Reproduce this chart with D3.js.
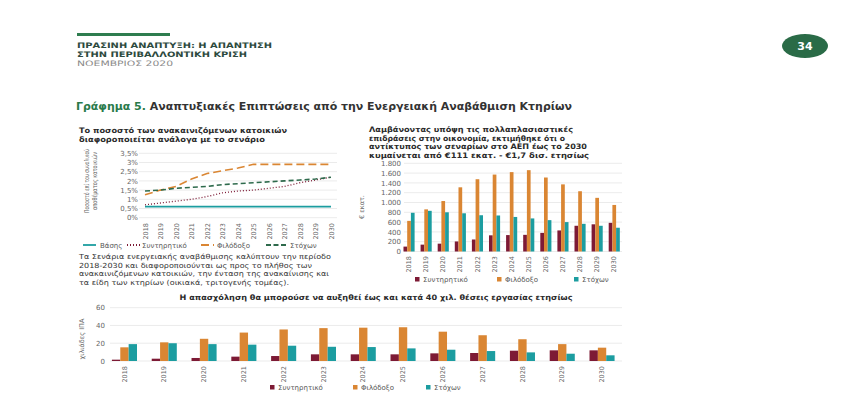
<!DOCTYPE html>
<html>
<head>
<meta charset="utf-8">
<script src="https://d3js.org/d3.v7.min.js"></script>
<style>
  body { margin: 0; background: #fff; }
  svg { display: block; font-family: "DejaVu Sans", sans-serif; }
</style>
</head>
<body>
<svg id="page" width="861" height="409"></svg>
<script>
// data
var years = ['2018','2019','2020','2021','2022','2023','2024','2025','2026','2027','2028','2029','2030'];

// renovated homes, % of stock
var shareBase = [0.6,0.6,0.6,0.6,0.6,0.6,0.6,0.6,0.6,0.6,0.6,0.6,0.6];
var shareCons = [0.7,0.8,0.9,1.0,1.15,1.35,1.45,1.5,1.6,1.7,1.9,2.05,2.2];
var shareAmb = [1.25,1.5,1.7,2.1,2.4,2.55,2.7,2.9,2.9,2.9,2.9,2.9,2.9];
var shareTarget = [1.45,1.5,1.6,1.65,1.7,1.8,1.85,1.9,1.95,2.0,2.05,2.1,2.2];
var shareTicks = [0,0.5,1,1.5,2,2.5,3,3.5];

// GDP impact, € million
var gdpCons = [100,140,160,205,245,330,335,340,380,430,525,555,585];
var gdpAmb = [625,860,1030,1310,1475,1570,1620,1660,1510,1370,1230,1095,950];
var gdpTarget = [790,830,800,780,740,735,705,675,640,600,565,525,485];
var gdpTicks = [0,200,400,600,800,1000,1200,1400,1600,1800];

// jobs, thousand FTE
var jobsCons = [1.5,2.6,3.4,4.9,5.6,7.5,7.5,7.5,8.6,9,11.6,12,12];
var jobsAmb = [15.4,21,25,32,35.5,37,37.5,38,33,29,24.5,19,15];
var jobsTarget = [19,20,19,18.4,17.2,16,15.7,14.2,12.7,11.2,9.7,8.2,6.4];
var jobsTicks = [0,20,40,60];

var scenarioNames = ['Συντηρητικό','Φιλόδοξο','Στόχων'];

var RED = '#7d1a35', ORANGE = '#da8633', TEAL = '#1c9da0', DKGREEN = '#2e6a4c', GRID = '#e6e6e6';

var gr = d3.formatLocale({decimal: ',', thousands: '.', grouping: [3], currency: ['€', '']});
var fmtInt = gr.format(',d');
var fmtPct = function (v) { return gr.format(',')(v) + '%'; };

var svg = d3.select('#page');

// ---- page header ----
svg.append('rect').attr('x', 77).attr('y', 33).attr('width', 93).attr('height', 3).attr('fill', '#2e7d4f');
var head = [
  {t: 'ΠΡΑΣΙΝΗ ΑΝΑΠΤΥΞΗ: Η ΑΠΑΝΤΗΣΗ', y: 48, w: 195, c: '#2d4a3e', b: true},
  {t: 'ΣΤΗΝ ΠΕΡΙΒΑΛΛΟΝΤΙΚΗ ΚΡΙΣΗ', y: 57, w: 170, c: '#2d4a3e', b: true},
  {t: 'ΝΟΕΜΒΡΙΟΣ 2020', y: 66, w: 96, c: '#8a8a8a', b: false}
];
svg.selectAll('.head').data(head).enter().append('text')
  .attr('x', 77).attr('y', function (d) { return d.y; })
  .attr('textLength', function (d) { return d.w; }).attr('lengthAdjust', 'spacingAndGlyphs')
  .attr('font-size', 7.5).attr('fill', function (d) { return d.c; })
  .attr('font-weight', function (d) { return d.b ? 'bold' : 'normal'; })
  .text(function (d) { return d.t; });

svg.append('ellipse').attr('cx', 805).attr('cy', 46).attr('rx', 23).attr('ry', 12).attr('fill', '#2a6b47');
svg.append('text').attr('x', 805).attr('y', 50).attr('text-anchor', 'middle')
  .attr('font-size', 11).attr('font-weight', 'bold').attr('fill', '#fff').text('34');

var title = svg.append('text').attr('x', 76).attr('y', 110).attr('font-size', 11).attr('font-weight', 'bold')
  .attr('textLength', 496).attr('lengthAdjust', 'spacingAndGlyphs');
title.append('tspan').attr('fill', '#2a7a4a').text('Γράφημα 5. ');
title.append('tspan').attr('fill', '#333').text('Αναπτυξιακές Επιπτώσεις από την Ενεργειακή Αναβάθμιση Κτηρίων');

function lines(x, ys, arr, size, bold, widths, color) {
  arr.forEach(function (t, i) {
    var el = svg.append('text').attr('x', x).attr('y', ys[i]).attr('font-size', size)
      .attr('fill', color || '#2a2a2a').text(t);
    if (bold) el.attr('font-weight', 'bold');
    if (widths) el.attr('textLength', widths[i]).attr('lengthAdjust', 'spacingAndGlyphs');
  });
}

// ---- left: line chart ----
lines(79, [132.5, 141.5], ['Το ποσοστό των ανακαινιζόμενων κατοικιών', 'διαφοροποιείται ανάλογα με το σενάριο'], 7.5, true, [208, 186]);

var xL = d3.scalePoint().domain(years).range([145, 331]);
var yL = d3.scaleLinear().domain([0, 3.5]).range([217.7, 153.3]);

svg.append('g').selectAll('line').data(shareTicks).enter().append('line')
  .attr('x1', 139).attr('x2', 337)
  .attr('y1', function (d) { return yL(d); }).attr('y2', function (d) { return yL(d); })
  .attr('stroke', GRID).attr('stroke-width', 0.8);

var axL = svg.append('g').attr('transform', 'translate(138,0)')
  .call(d3.axisLeft(yL).tickValues(shareTicks).tickSize(0).tickPadding(0).tickFormat(fmtPct));
axL.select('.domain').remove();
axL.selectAll('text').attr('font-size', 7).attr('fill', '#666').attr('font-family', 'DejaVu Sans');

var axLx = svg.append('g').attr('transform', 'translate(0,221)')
  .call(d3.axisBottom(xL).tickSize(0).tickPadding(0));
axLx.select('.domain').remove();
axLx.selectAll('text').attr('font-size', 6.5).attr('fill', '#666').attr('font-family', 'DejaVu Sans')
  .attr('transform', 'rotate(-90)').attr('text-anchor', 'end').attr('dy', '0.32em').attr('x', -2).attr('y', 0);

svg.append('text').attr('transform', 'translate(89,181) rotate(-90)').attr('text-anchor', 'middle')
  .attr('font-size', 6.5).attr('fill', '#666').attr('textLength', 64).attr('lengthAdjust', 'spacingAndGlyphs')
  .text('Ποσοστό επί του συνολικού');
svg.append('text').attr('transform', 'translate(97,181) rotate(-90)').attr('text-anchor', 'middle')
  .attr('font-size', 6.5).attr('fill', '#666').attr('textLength', 58).attr('lengthAdjust', 'spacingAndGlyphs')
  .text('αποθέματος κατοικιών');

var lineSeries = [
  {name: 'Βάσης', v: shareBase, c: TEAL, dash: null, w: 1.6},
  {name: 'Συντηρητικό', v: shareCons, c: RED, dash: '1,2', w: 1.3},
  {name: 'Φιλόδοξο', v: shareAmb, c: ORANGE, dash: '8,4', w: 1.6},
  {name: 'Στόχων', v: shareTarget, c: DKGREEN, dash: '5,3', w: 1.6}
];
var lineGen = d3.line().x(function (d, i) { return xL(years[i]); }).y(function (d) { return yL(d); });
svg.append('g').selectAll('path').data(lineSeries).enter().append('path')
  .attr('d', function (s) { return lineGen(s.v); })
  .attr('fill', 'none').attr('stroke', function (s) { return s.c; })
  .attr('stroke-width', function (s) { return s.w; })
  .attr('stroke-dasharray', function (s) { return s.dash; });

var legL = [{x: 83, tx: 100}, {x: 127, tx: 142}, {x: 201, tx: 217}, {x: 266, tx: 290}];
lineSeries.forEach(function (s, i) {
  var lx = legL[i].x;
  svg.append('line').attr('x1', lx).attr('x2', i === 3 ? lx + 20 : lx + 13).attr('y1', 245).attr('y2', 245)
    .attr('stroke', s.c).attr('stroke-width', 1.8).attr('stroke-dasharray', i === 3 ? '5,2.5' : s.dash);
  svg.append('text').attr('x', legL[i].tx).attr('y', 247.5).attr('font-size', 7).attr('fill', '#555').text(s.name);
});

lines(79, [259, 267.5, 276, 284.5], [
  'Τα Σενάρια ενεργειακής αναβάθμισης καλύπτουν την περίοδο',
  '2018-2030 και διαφοροποιούνται ως προς το πλήθος των',
  'ανακαινιζόμενων κατοικιών, την ένταση της ανακαίνισης και',
  'τα είδη των κτηρίων (οικιακά, τριτογενής τομέας).'
], 7, false, [252, 233, 250, 210], '#333');

// ---- grouped bar helper ----
function barChart(o) {
  var x0 = d3.scaleBand().domain(years).range(o.xr).paddingInner(o.pad).paddingOuter(o.pad);
  var x1 = d3.scaleBand().domain([0, 1, 2]).range([0, x0.bandwidth()]);
  var y = d3.scaleLinear().domain([0, o.max]).range(o.yr);
  var colors = [RED, ORANGE, TEAL];

  svg.append('g').selectAll('line').data(o.ticks).enter().append('line')
    .attr('x1', o.grid[0]).attr('x2', o.grid[1])
    .attr('y1', function (d) { return y(d); }).attr('y2', function (d) { return y(d); })
    .attr('stroke', GRID).attr('stroke-width', 0.8);

  var ay = svg.append('g').attr('transform', 'translate(' + o.tickX + ',0)')
    .call(d3.axisLeft(y).tickValues(o.ticks).tickSize(0).tickPadding(0).tickFormat(fmtInt));
  ay.select('.domain').remove();
  ay.selectAll('text').attr('font-size', 7).attr('fill', '#666').attr('font-family', 'DejaVu Sans');

  var ax = svg.append('g').attr('transform', 'translate(0,' + o.labelY + ')')
    .call(d3.axisBottom(x0).tickSize(0).tickPadding(0));
  ax.select('.domain').remove();
  ax.selectAll('text').attr('font-size', 6.5).attr('fill', '#666').attr('font-family', 'DejaVu Sans')
    .attr('transform', 'rotate(-90)').attr('text-anchor', 'end').attr('dy', '0.32em').attr('x', 0).attr('y', 0);

  var rows = years.map(function (yr, i) { return {yr: yr, v: [o.data[0][i], o.data[1][i], o.data[2][i]]}; });
  svg.append('g').selectAll('g').data(rows).enter().append('g')
    .attr('transform', function (d) { return 'translate(' + x0(d.yr) + ',0)'; })
    .selectAll('rect').data(function (d) { return d.v; }).enter().append('rect')
    .attr('x', function (d, j) { return x1(j); })
    .attr('width', x1.bandwidth())
    .attr('y', function (d) { return y(d); })
    .attr('height', function (d) { return y(0) - y(d); })
    .attr('fill', function (d, j) { return colors[j]; });

  svg.append('text').attr('transform', 'translate(' + o.yTitle[0] + ',' + o.yTitle[1] + ') rotate(-90)')
    .attr('text-anchor', 'middle').attr('font-size', 6.5).attr('fill', '#666').text(o.yTitle[2]);

  scenarioNames.forEach(function (n, j) {
    var lx = o.legend[j];
    svg.append('rect').attr('x', lx).attr('y', o.legY - 5).attr('width', 4.5).attr('height', 4.5).attr('fill', colors[j]);
    svg.append('text').attr('x', lx + 8).attr('y', o.legY).attr('font-size', 7).attr('fill', '#555').text(n);
  });
}

// ---- right: GDP bars ----
lines(369, [132, 140.5, 149, 157.5], [
  'Λαμβάνοντας υπόψη τις πολλαπλασιαστικές',
  'επιδράσεις στην οικονομία, εκτιμήθηκε ότι ο',
  'αντίκτυπος των σεναρίων στο ΑΕΠ έως το 2030',
  'κυμαίνεται από €111 εκατ. - €1,7 δισ. ετησίως'
], 7.5, true, [204, 196, 218, 220]);

barChart({
  data: [gdpCons, gdpAmb, gdpTarget], max: 1800, ticks: gdpTicks,
  xr: [397.5, 625.8], pad: 0.35, yr: [251.5, 163.3], grid: [404, 622],
  tickX: 401, labelY: 256, yTitle: [364, 207, '€ εκατ.'],
  legend: [415, 497, 574], legY: 282
});

// ---- bottom: jobs bars ----
svg.append('text').attr('x', 376).attr('y', 299.5).attr('text-anchor', 'middle')
  .attr('font-size', 7.5).attr('font-weight', 'bold').attr('fill', '#2a2a2a')
  .attr('textLength', 393).attr('lengthAdjust', 'spacingAndGlyphs')
  .text('Η απασχόληση θα μπορούσε να αυξηθεί έως και κατά 40 χιλ. θέσεις εργασίας ετησίως');

barChart({
  data: [jobsCons, jobsAmb, jobsTarget], max: 60, ticks: jobsTicks,
  xr: [97.2, 629.3], pad: 0.37, yr: [361, 307.7], grid: [110, 622],
  tickX: 105, labelY: 366, yTitle: [84, 339, 'χιλιάδες ΙΠΑ'],
  legend: [270, 353, 426], legY: 390
});
</script>
</body>
</html>
